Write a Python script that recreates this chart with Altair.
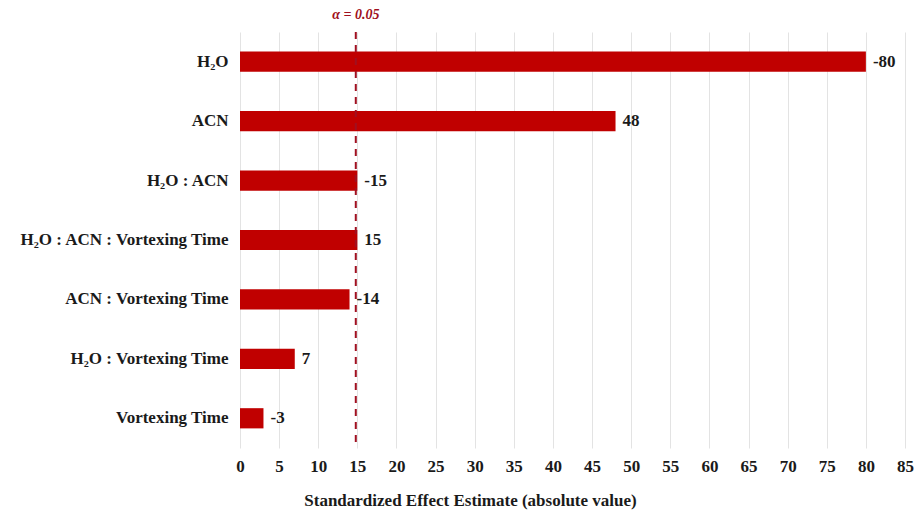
import altair as alt
import pandas as pd

# Pareto-style effect estimates for the extraction factors
factors = [
    "H₂O",
    "ACN",
    "H₂O : ACN",
    "H₂O : ACN : Vortexing Time",
    "ACN : Vortexing Time",
    "H₂O : Vortexing Time",
    "Vortexing Time",
]
effects = [-80, 48, -15, 15, -14, 7, -3]
alpha_threshold = 14.8
x_ticks = list(range(0, 90, 5))

df = pd.DataFrame({
    "factor": factors,
    "effect": effects,
    "abs_effect": [abs(v) for v in effects],
    "label": [str(v) for v in effects],
})
thr = pd.DataFrame({"abs_effect": [alpha_threshold], "name": ["α = 0.05"]})

FONT = "Liberation Serif"
BAR = "#C00000"
LINE = "#A01020"
INK = "#1a1a1a"
X_TITLE = "Standardized Effect Estimate (absolute value)"

x_scale = alt.Scale(domain=[0, 85], nice=False)
x_axis = alt.Axis(values=x_ticks, labelFont=FONT, labelFontWeight="bold",
                  labelFontSize=17, labelColor=INK, labelPadding=10,
                  labelOverlap=False, labelFlush=False,
                  ticks=False, domain=False, grid=True, gridColor="#e3e3e3",
                  titleFont=FONT, titleFontSize=17, titleFontWeight="bold",
                  titleColor=INK, titleX=230, titleY=52, titleAlign="center",
                  titleBaseline="middle")
x_enc = alt.X("abs_effect:Q", title=X_TITLE, scale=x_scale, axis=x_axis)

y_enc = alt.Y("factor:N", sort=factors, title=None,
              scale=alt.Scale(paddingInner=0.66, paddingOuter=0.33),
              axis=alt.Axis(labelFont=FONT, labelFontWeight="bold", labelFontSize=17,
                            labelColor=INK, labelPadding=12, labelLimit=400, ticks=False,
                            domain=False, grid=False))

bars = alt.Chart(df).mark_bar(color=BAR).encode(y=y_enc, x=x_enc)

labels = alt.Chart(df).mark_text(align="left", baseline="middle", dx=7, font=FONT,
                                 fontWeight="bold", fontSize=17, color=INK).encode(
    y=y_enc, x=x_enc, text="label:N")

# significance threshold (dashed) and its caption above the plot
rule = alt.Chart(thr).mark_rule(color=LINE, strokeDash=[7, 6], strokeWidth=2).encode(
    x=x_enc, y=alt.value(0), y2=alt.value(416))
rule_text = alt.Chart(thr).mark_text(font=FONT, fontStyle="italic", fontWeight="bold",
                                     fontSize=14, color=LINE, baseline="middle").encode(
    x=x_enc, y=alt.value(-17), text="name:N")

chart = alt.layer(bars, labels, rule, rule_text).properties(
    width=665, height=416,
    background="white",
    autosize=alt.AutoSizeParams(type="none"),
    padding={"left": 240, "top": 32, "right": 11, "bottom": 68},
).configure_view(stroke=None)

chart.save("out.html", embed_options={"renderer": "svg", "actions": False})
